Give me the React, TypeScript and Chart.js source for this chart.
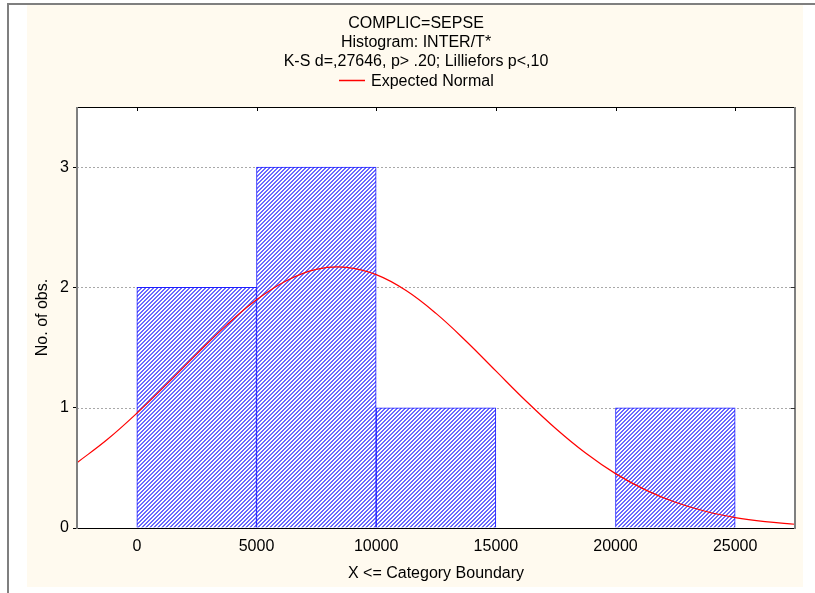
import React, { useEffect, useRef } from 'react';
import { Chart, registerables } from 'chart.js';

Chart.register(...registerables);

const TITLE_LINES = ['COMPLIC=SEPSE', 'Histogram: INTER/T*', 'K-S d=,27646, p> .20; Lilliefors p<,10'];
const LEGEND_LABEL = 'Expected Normal';
const X_TITLE = 'X <= Category Boundary';
const Y_TITLE = 'No. of obs.';

// histogram bins (centres of 5000-wide categories) and observed counts
const BIN_CENTERS = [2500, 7500, 12500, 17500, 22500];
const BIN_COUNTS = [2, 3, 1, 0, 1];

// expected normal curve
const CURVE_X = [-2500, -1250, 0, 1250, 2500, 3750, 5000, 6250, 7500, 8750, 10000, 11250, 12500,
  13750, 15000, 16250, 17500, 18750, 20000, 21250, 22500, 23750, 25000, 26250, 27500];
const CURVE_Y = [0.543, 0.733, 0.954, 1.196, 1.446, 1.687, 1.897, 2.056, 2.150, 2.167, 2.106, 1.974, 1.784,
  1.555, 1.306, 1.058, 0.827, 0.623, 0.452, 0.317, 0.214, 0.139, 0.087, 0.053, 0.031];

const X_TICKS = [0, 5000, 10000, 15000, 20000, 25000];
const Y_TICKS = [0, 1, 2, 3];
const X_MIN = -2500;
const X_MAX = 27500;
const Y_MIN = 0;
const Y_MAX = 3.5;

const FONT_FAMILY = '"Liberation Sans", Arial, Helvetica, sans-serif';
const CREAM = '#FFFAEF';
const FRAME_GRAY = '#7f7f7f';
const GRID_GRAY = '#a8a8a8';
const CURVE_COLOR = '#ff0000';
const BAR_BORDER = '#1e1eff';
const BAR_HATCH = '#6a6aff';

const framePlugin = {
  id: 'statFrame',
  beforeDraw(chart: any) {
    const ctx = chart.ctx as CanvasRenderingContext2D;
    const { left, top, right, bottom } = chart.chartArea;
    const W = chart.width;
    const H = chart.height;
    ctx.save();
    ctx.fillStyle = '#ffffff';
    ctx.fillRect(0, 0, W, H);
    ctx.fillStyle = FRAME_GRAY;
    ctx.fillRect(7, 3, W - 7, 2);
    ctx.fillRect(7, 3, 2, H - 3);
    ctx.fillStyle = CREAM;
    ctx.fillRect(27, 5, 776, 582);
    ctx.fillStyle = '#ffffff';
    ctx.fillRect(left, top, right - left, bottom - top);

    // titles
    const cx = 416;
    ctx.fillStyle = '#000';
    ctx.font = `16px ${FONT_FAMILY}`;
    ctx.textAlign = 'center';
    ctx.textBaseline = 'alphabetic';
    TITLE_LINES.forEach((t, i) => ctx.fillText(t, cx, 28 + 19 * i));

    // legend
    const lineLen = 26;
    const gap = 6;
    const tw = ctx.measureText(LEGEND_LABEL).width;
    const lx = Math.round(cx - (lineLen + gap + tw) / 2);
    ctx.strokeStyle = CURVE_COLOR;
    ctx.lineWidth = 1.5;
    ctx.beginPath();
    ctx.moveTo(lx, 80.5);
    ctx.lineTo(lx + lineLen, 80.5);
    ctx.stroke();
    ctx.textAlign = 'left';
    ctx.fillText(LEGEND_LABEL, lx + lineLen + gap, 86);
    ctx.restore();
  },
  beforeDatasetsDraw(chart: any) {
    const ctx = chart.ctx as CanvasRenderingContext2D;
    const { left, right } = chart.chartArea;
    const ys = chart.scales.y;
    ctx.save();
    ctx.strokeStyle = GRID_GRAY;
    ctx.lineWidth = 1;
    ctx.setLineDash([2, 2]);
    ys.ticks.forEach((t: any) => {
      if (t.value === Y_MIN) return;
      const py = Math.round(ys.getPixelForValue(t.value)) + 0.5;
      ctx.beginPath();
      ctx.moveTo(left, py);
      ctx.lineTo(right, py);
      ctx.stroke();
    });
    ctx.restore();
  },
  afterDraw(chart: any) {
    const ctx = chart.ctx as CanvasRenderingContext2D;
    const { left, top, right, bottom } = chart.chartArea;
    const xs = chart.scales.x;
    const ys = chart.scales.y;
    ctx.save();
    ctx.fillStyle = '#000';
    ctx.fillRect(left, top, right - left, 1);
    ctx.fillRect(left, bottom, right - left + 1, 1);
    ctx.fillStyle = FRAME_GRAY;
    ctx.fillRect(left - 1, top, 2, bottom - top + 1);
    ctx.fillRect(right - 1, top, 2, bottom - top + 1);
    ctx.fillStyle = '#000';
    xs.ticks.forEach((t: any) => {
      const px = Math.round(xs.getPixelForValue(t.value));
      ctx.fillRect(px, top, 1, 4);
    });
    ctx.fillStyle = '#333';
    ys.ticks.forEach((t: any) => {
      if (t.value === Y_MIN) return;
      const py = Math.round(ys.getPixelForValue(t.value));
      ctx.fillRect(right - 4, py, 4, 1);
    });
    ctx.restore();
  },
};

export default function App() {
  const ref = useRef<HTMLCanvasElement>(null);

  useEffect(() => {
    document.body.style.margin = '0';
    const canvas = ref.current!;
    Chart.defaults.font.family = FONT_FAMILY;
    Chart.defaults.color = '#000';

    const pc = document.createElement('canvas');
    pc.width = 4;
    pc.height = 4;
    const pctx = pc.getContext('2d')!;
    pctx.fillStyle = '#ffffff';
    pctx.fillRect(0, 0, 4, 4);
    pctx.fillStyle = BAR_HATCH;
    for (let y = 0; y < 4; y++) {
      for (let x = 0; x < 4; x++) {
        if ((x + y) % 4 < 2) pctx.fillRect(x, y, 1, 1);
      }
    }
    const pattern = canvas.getContext('2d')!.createPattern(pc, 'repeat')!;

    const chart = new Chart(canvas, {
      type: 'bar',
      data: {
        datasets: [
          {
            type: 'line',
            label: LEGEND_LABEL,
            data: CURVE_X.map((x, i) => ({ x, y: CURVE_Y[i] })),
            borderColor: CURVE_COLOR,
            borderWidth: 1.2,
            pointRadius: 0,
            tension: 0.4,
            fill: false,
            order: 1,
          } as any,
          {
            type: 'bar',
            label: 'Histogram',
            data: BIN_CENTERS.map((x, i) => ({ x, y: BIN_COUNTS[i] })),
            backgroundColor: pattern,
            borderColor: BAR_BORDER,
            borderWidth: 1,
            barPercentage: 1,
            categoryPercentage: 1,
            order: 2,
          } as any,
        ],
      },
      options: {
        responsive: false,
        animation: false,
        devicePixelRatio: 1,
        layout: { padding: { left: 27, top: 107, right: 20, bottom: 6 } },
        plugins: {
          legend: { display: false },
          title: { display: false },
          tooltip: { enabled: false },
        },
        scales: {
          x: {
            type: 'linear',
            position: 'bottom',
            min: X_MIN,
            max: X_MAX,
            offset: false,
            afterBuildTicks: (s: any) => { s.ticks = X_TICKS.map((value) => ({ value })); },
            afterFit: (s: any) => { s.height = 59; },
            ticks: {
              autoSkip: false,
              maxRotation: 0,
              color: '#000',
              font: { size: 16 },
              padding: 9,
              callback: (v: any) => String(v),
            },
            grid: { display: false, drawTicks: false, offset: false },
            border: { display: false },
            title: { display: true, text: X_TITLE, color: '#000', font: { size: 16 }, padding: { top: 4, bottom: 4 } },
          },
          y: {
            type: 'linear',
            min: Y_MIN,
            max: Y_MAX,
            afterBuildTicks: (s: any) => { s.ticks = Y_TICKS.map((value) => ({ value })); },
            afterFit: (s: any) => { s.width = 50; },
            ticks: {
              color: '#000',
              font: { size: 16 },
              padding: 4,
              callback: (v: any) => String(v),
            },
            grid: {
              drawOnChartArea: false,
              tickColor: '#000',
              tickLength: 4,
            },
            border: { display: false },
            title: { display: true, text: Y_TITLE, color: '#000', font: { size: 16 }, padding: { top: 6, bottom: 6 } },
          },
        },
      } as any,
      plugins: [framePlugin],
    });

    return () => chart.destroy();
  }, []);

  return (
    <div style={{ width: 815, height: 593 }}>
      <canvas ref={ref} width={815} height={593} style={{ display: 'block' }} />
    </div>
  );
}
